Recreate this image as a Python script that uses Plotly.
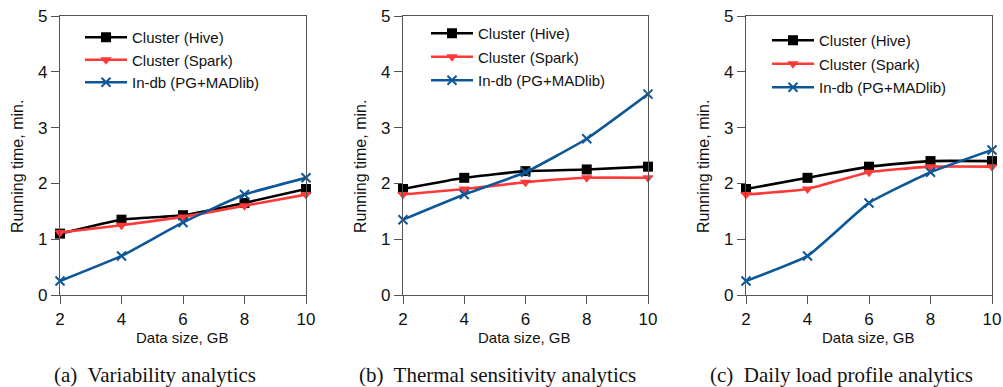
import plotly.graph_objects as go

sizes = [2, 4, 6, 8, 10]
series_names = ["Cluster (Hive)", "Cluster (Spark)", "In-db (PG+MADlib)"]

a_hive = [1.1, 1.35, 1.43, 1.65, 1.9]
a_spark = [1.12, 1.25, 1.4, 1.6, 1.8]
a_indb = [0.25, 0.7, 1.3, 1.8, 2.1]

b_hive = [1.9, 2.1, 2.22, 2.25, 2.3]
b_spark = [1.8, 1.9, 2.02, 2.1, 2.1]
b_indb = [1.35, 1.8, 2.2, 2.8, 3.6]

c_hive = [1.9, 2.1, 2.3, 2.4, 2.4]
c_spark = [1.8, 1.9, 2.2, 2.3, 2.3]
c_indb = [0.25, 0.7, 1.65, 2.2, 2.6]

captions = ["(a)  Variability analytics", "(b)  Thermal sensitivity analytics",
            "(c)  Daily load profile analytics"]
x_title = "Data size, GB"
y_title = "Running time, min."
y_ticks = [0, 1, 2, 3, 4, 5]
x_ticks = [2, 4, 6, 8, 10]

W, H = 1003, 387
colors = ["#000000", "#ff3838", "#0d5799"]
symbols = ["square", "triangle-down", "x-thin"]

panels = [
    dict(data=[a_hive, a_spark, a_indb], px=(60, 306), legend_x=86, legend_y=21, gap=0),
    dict(data=[b_hive, b_spark, b_indb], px=(403, 648), legend_x=432, legend_y=17, gap=1),
    dict(data=[c_hive, c_spark, c_indb], px=(746, 992), legend_x=773, legend_y=24, gap=1),
]
py = (16, 295)

fig = go.Figure()
annotations = []
layout = dict(width=W, height=H, margin=dict(l=0, r=0, t=0, b=0, autoexpand=False),
              paper_bgcolor="white", plot_bgcolor="white",
              font=dict(family="Liberation Sans, Arial, sans-serif", color="#111"))

for i, p in enumerate(panels):
    k = i + 1
    xa = "x" if k == 1 else f"x{k}"
    ya = "y" if k == 1 else f"y{k}"
    lg = "legend" if k == 1 else f"legend{k}"
    for j, vals in enumerate(p["data"]):
        mk = dict(symbol=symbols[j], color=colors[j], size=10 if j < 2 else 9,
                  line=dict(color=colors[j], width=2 if j == 2 else 0))
        fig.add_trace(go.Scatter(
            x=sizes, y=vals, mode="lines+markers", name=series_names[j],
            line=dict(color=colors[j], width=2.6, shape="spline", smoothing=0.4),
            marker=mk, xaxis=xa, yaxis=ya, legend=lg, legendgroup=f"{k}-{j}",
            showlegend=True, cliponaxis=False))
    x0, x1 = p["px"]
    axis_common = dict(showline=True, linecolor="#555", linewidth=1.2, mirror=True,
                       ticks="outside", ticklen=8, tickcolor="#555", tickwidth=1.2,
                       showgrid=False, zeroline=False, automargin=False,
                       tickfont=dict(size=17, color="#111"))
    layout["xaxis" if k == 1 else f"xaxis{k}"] = dict(
        domain=[x0 / W, x1 / W], range=[2, 10], tickvals=x_ticks, anchor=ya,
        **axis_common)
    layout["yaxis" if k == 1 else f"yaxis{k}"] = dict(
        domain=[1 - py[1] / H, 1 - py[0] / H], range=[0, 5], tickvals=y_ticks,
        anchor=xa, **axis_common)
    layout[lg] = dict(x=(p["legend_x"] - 6) / W, y=1 - p["legend_y"] / H,
                      xanchor="left", yanchor="top", bgcolor="rgba(0,0,0,0)",
                      font=dict(size=15, color="#111"), traceorder="grouped",
                      tracegroupgap=p["gap"], itemwidth=42)
    cx = (x0 + x1) / 2
    annotations.append(dict(text=x_title, x=(cx - 1) / W, y=1 - 337 / H, xref="paper",
                            yref="paper", showarrow=False, font=dict(size=15),
                            xanchor="center", yanchor="middle"))
    annotations.append(dict(text=y_title, x=(x0 - 43) / W, y=1 - 167 / H,
                            xref="paper", yref="paper", showarrow=False,
                            textangle=-90, font=dict(size=16),
                            xanchor="center", yanchor="middle"))
    annotations.append(dict(text=captions[i], x=(cx - 28) / W, y=1 - 375 / H,
                            xref="paper", yref="paper", showarrow=False,
                            xanchor="center", yanchor="middle",
                            font=dict(size=21, family="Liberation Serif, Times New Roman, serif")))

layout["annotations"] = annotations
fig.update_layout(**layout)
fig.write_html("out.html")
